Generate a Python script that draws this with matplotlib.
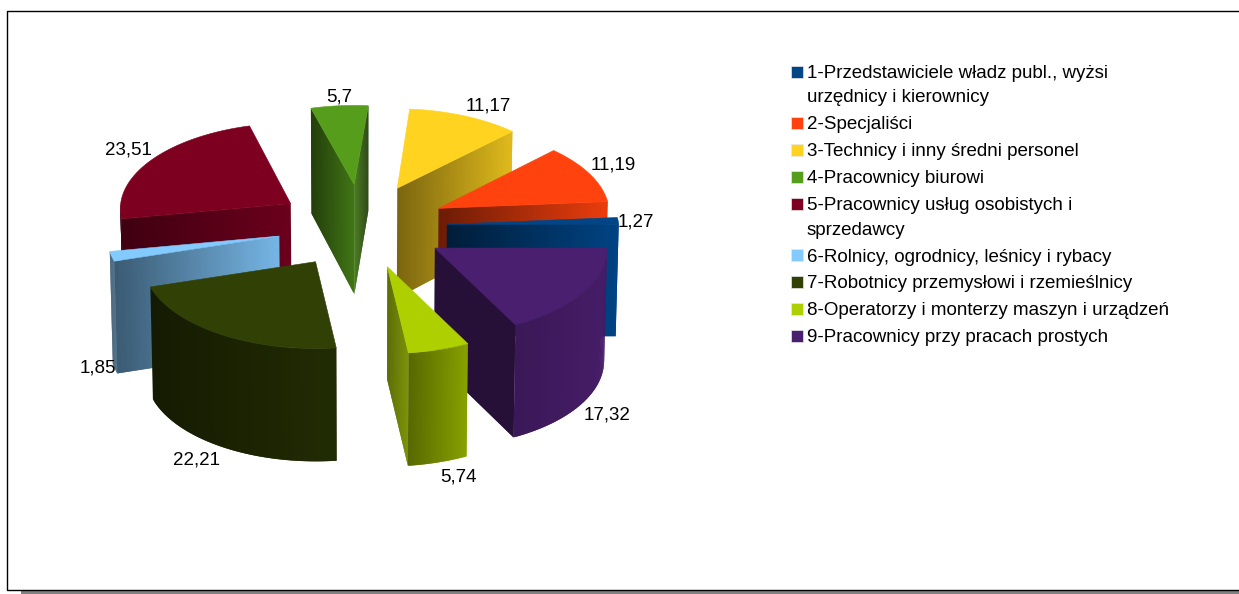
import numpy as np
import matplotlib
matplotlib.use("Agg")
import matplotlib.pyplot as plt
from matplotlib.colors import to_rgb
from matplotlib.patches import Rectangle, Polygon
from matplotlib.collections import PolyCollection

# ---- data ----
categories = [
    "1-Przedstawiciele władz publ., wyżsi\nurzędnicy i kierownicy",
    "2-Specjaliści",
    "3-Technicy i inny średni personel",
    "4-Pracownicy biurowi",
    "5-Pracownicy usług osobistych i\nsprzedawcy",
    "6-Rolnicy, ogrodnicy, leśnicy i rybacy",
    "7-Robotnicy przemysłowi i rzemieślnicy",
    "8-Operatorzy i monterzy maszyn i urządzeń",
    "9-Pracownicy przy pracach prostych",
]
values = [1.27, 11.19, 11.17, 5.70, 23.51, 1.85, 22.21, 5.74, 17.32]
value_labels = ["1,27", "11,19", "11,17", "5,7", "23,51", "1,85", "22,21", "5,74", "17,32"]

# ---- style ----
colors = ["#004586", "#ff420e", "#ffd320", "#579d1c", "#7e0021",
          "#83caff", "#314004", "#aecf00", "#4b1f6f"]
# brightness (left, right) of each wall type
shade_start = [(.42, .98), (.42, .92), (.48, .88), (.75, .40), (.5, .85),
               (.5, .85), (.5, .7), (.5, .7), (.5, .5)]
shade_end = [(.42, .98), (.42, .92), (.48, .88), (.40, .75), (.50, .85),
             (.45, .90), (.5, .7), (.36, .50), (.48, .48)]
shade_outer = [(.9, .9), (.9, .9), (.9, .9), (.6, .6), (.45, .45),
               (.45, .50), (.42, .68), (.50, .78), (.78, .93)]
# label offset from the slice's outer-arc midpoint
label_offsets = [(18, 1), (24, -9), (24, -10), (0, -9), (-23, -10),
                 (-17, -1), (-26, 13), (20, 15), (27, 10)]

CX, CY, R, EXPL, TILT, H = 362, 226, 172, 85, 0.5, 112
PERSP_BACK, PERSP_FRONT, TAPER = 0.00025, 0.00003, 0.012
FONT = "Liberation Sans"
FS = 13.5


def project(X, Y, Z=0.0):
    Y = np.asarray(Y, dtype=float)
    p = 1 / (1 + np.where(Y > 0, PERSP_BACK, PERSP_FRONT) * Y)
    q = 1 - TAPER * Z / H
    return CX + X * p * q, CY - TILT * Y * p + Z * p


def mix(c, f):
    return tuple(np.clip(np.array(to_rgb(c)) * f, 0, 1))


fig = plt.figure(figsize=(12.39, 5.94), dpi=100, facecolor="white")
ax = fig.add_axes([0, 0, 1, 1])
ax.set_xlim(0, 1239)
ax.set_ylim(594, 0)
ax.axis("off")

# frame and shadow
ax.add_patch(Rectangle((21, 590.5), 1218, 4, fc="#808080", ec="none", zorder=0))
ax.plot([1239, 7.0, 7.0, 1239], [11.0, 11.0, 590.0, 590.0], color="black", lw=1.0, zorder=1)


def wall(ax, xs, ys, col, shade, z):
    tx, ty = project(xs, ys)
    bx, by = project(xs, ys, H)
    lo, hi = tx.min(), tx.max()
    n = len(xs) - 1
    quads, cols = [], []
    for i in range(n):
        j = min(i + 2, n)   # overlap the next strip so no seams show
        quads.append([(tx[i], ty[i]), (tx[j], ty[j]), (bx[j], by[j]), (bx[i], by[i])])
        t = (0.5 * (tx[i] + tx[i + 1]) - lo) / max(hi - lo, 1e-6)
        cols.append(mix(col, shade[0] + (shade[1] - shade[0]) * t))
    ax.add_collection(PolyCollection(quads, facecolors=cols, edgecolors="none",
                                     linewidths=0, zorder=z))


def radial_face(ox, oy, ang, col, shade, z, n=50):
    rr = np.linspace(0, R, n + 1)
    wall(ax, ox + rr * np.cos(ang), oy + rr * np.sin(ang), col, shade, z)


def outer_wall(ox, oy, a0, a1, col, shade, z, n=70):
    angs = np.linspace(a0, a1, n + 1)
    wall(ax, ox + R * np.cos(angs), oy + R * np.sin(angs), col, shade, z)


total = sum(values)
spans = np.array(values) / total * 2 * np.pi
starts = np.concatenate([[0], np.cumsum(spans)[:-1]])
mids = starts + spans / 2
ox_all = EXPL * np.cos(mids)
oy_all = EXPL * np.sin(mids)

order = np.argsort(-oy_all)
for rank, i in enumerate(order):
    z = 10 + rank
    a0, a1 = starts[i], starts[i] + spans[i]
    ox, oy = ox_all[i], oy_all[i]
    c = colors[i]
    if np.sin(a0 - np.pi / 2) < 0:   # start face looks towards the viewer
        radial_face(ox, oy, a0, c, shade_start[i], z)
    if np.sin(a1 + np.pi / 2) < 0:   # end face looks towards the viewer
        radial_face(ox, oy, a1, c, shade_end[i], z)
    vis0, vis1 = max(a0, np.pi), min(a1, 2 * np.pi)
    if vis1 > vis0:
        outer_wall(ox, oy, vis0, vis1, c, shade_outer[i], z)
    angs = np.linspace(a0, a1, 80)
    px, py = project(ox + R * np.cos(angs), oy + R * np.sin(angs))
    ox0, oy0 = project(ox, oy)
    pts = [(ox0, oy0)] + list(zip(px, py))
    ax.add_patch(Polygon(pts, closed=True, fc=c, ec=c, lw=0.4, zorder=z))

    # value label
    m = mids[i]
    lx, ly = project(ox + R * np.cos(m), oy + R * np.sin(m), H if np.sin(m) < -0.1 else 0)
    dx, dy = label_offsets[i]
    ax.text(lx + dx, ly + dy, value_labels[i], ha="center", va="center",
            family=FONT, fontsize=FS, color="black", zorder=50)

# legend
y = 73.5
for name, c in zip(categories, colors):
    ax.add_patch(Rectangle((790.5, y - 8), 12, 12, fc=c, ec="#e8e8e8", lw=0.5, zorder=5))
    lines = name.split("\n")
    for j, line in enumerate(lines):
        ax.text(807, y + j * 24.5, line, ha="left", va="center", family=FONT,
                fontsize=FS, color="black", zorder=5)
    y += 26.9 + (len(lines) - 1) * 24.5

fig.savefig("out.png", dpi=100)
